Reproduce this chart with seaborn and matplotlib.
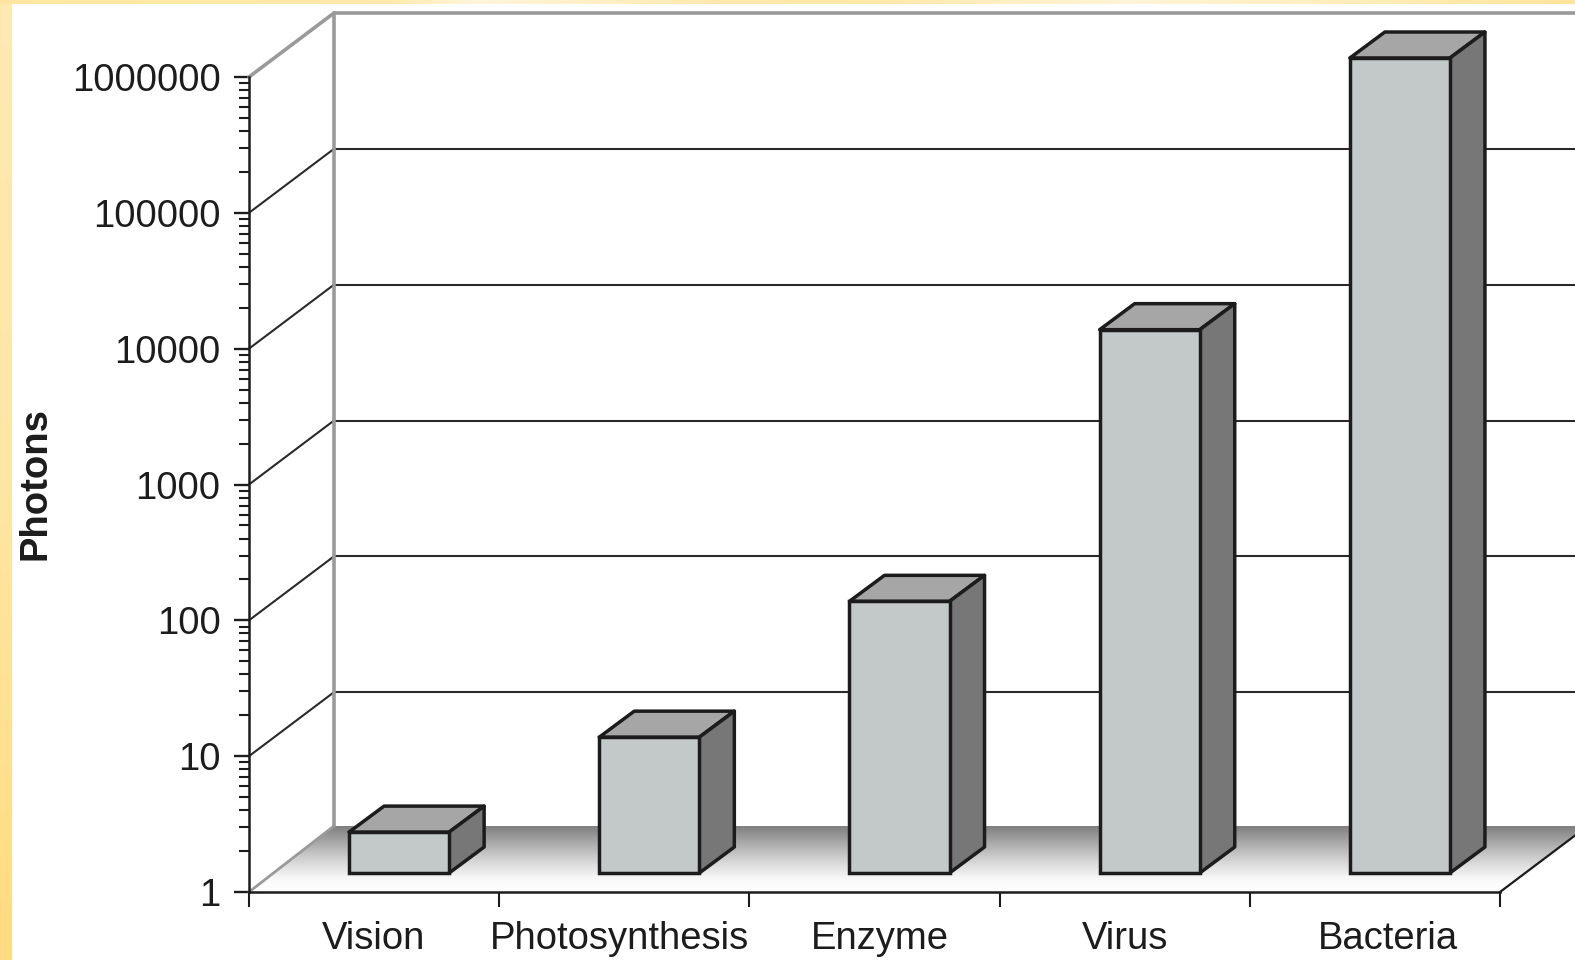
import numpy as np
import matplotlib
matplotlib.use("Agg")
import matplotlib.pyplot as plt
import seaborn as sns
from matplotlib.colors import LinearSegmentedColormap
from matplotlib.patches import Polygon
from matplotlib.ticker import LogLocator, FixedLocator, NullFormatter, FuncFormatter
from matplotlib.transforms import Affine2D, IdentityTransform

categories = ["Vision", "Photosynthesis", "Enzyme", "Virus", "Bacteria"]
photons = [2, 10, 100, 10000, 1000000]
y_ticks = [1, 10, 100, 1000, 10000, 100000, 1000000]
label_nudge = [-1, -5, 5, 0, 13]

W, H = 1575, 960
AX_LEFT, AX_RIGHT, AX_TOP, AX_BOTTOM = 249, 1500, 77, 892
WALL_DX, WALL_DY = 85, 64
FLOOR_DY = 66
BAR_DX, BAR_DY = 25, 19
DEPTH_DX, DEPTH_DY = 35, 26

FRONT, SIDE, TOP = "#c3c8c8", "#777777", "#a6a6a6"
INK = "#1c1c1c"
WALL = "#9a9a9a"
FONT_SIZE = 27.5

sns.set_theme(style="white")
plt.rcParams["font.family"] = ["Liberation Sans", "DejaVu Sans"]
plt.rcParams["text.color"] = INK

fig = plt.figure(figsize=(W / 100, H / 100), dpi=100, facecolor="white")

# Backdrop in pixel coordinates: pale frame and shaded floor
bg = fig.add_axes([0, 0, 1, 1], zorder=0)
bg.axis("off")
frame_cmap = LinearSegmentedColormap.from_list("frame", ["#ffe9b2", "#ffe6a4", "#ffdc80"])
bg.imshow(np.linspace(0, 1, 64)[:, None], extent=(0, 12, H, 0), cmap=frame_cmap,
          aspect="auto", zorder=1)
top_cmap = LinearSegmentedColormap.from_list(
    "top",
    [(0, "#ffe6a0"), (0.25, "#ffe9ae"), (0.3, "#fff6dc"), (0.45, "#ffe9b0"),
     (0.55, "#ffe7a8"), (0.72, "#fff5d8"), (1, "#ffe49c")])
bg.imshow(np.linspace(0, 1, 256)[None, :], extent=(0, W, 4, 0), cmap=top_cmap,
          aspect="auto", zorder=1)
floor_cmap = LinearSegmentedColormap.from_list(
    "floor", [(0, "#808080"), (0.45, "#cacaca"), (0.8, "#f8f8f8"), (1, "#ffffff")])
floor_back = AX_BOTTOM - FLOOR_DY
floor = bg.imshow(np.linspace(0, 1, 64)[:, None], extent=(AX_LEFT, W, AX_BOTTOM, floor_back),
                  cmap=floor_cmap, aspect="auto", zorder=2)
right_edge = AX_BOTTOM - (W - AX_RIGHT) * WALL_DY / WALL_DX
floor_outline = Polygon(
    [(AX_LEFT, AX_BOTTOM), (AX_LEFT + WALL_DX, floor_back), (W, floor_back),
     (W, right_edge), (AX_RIGHT, AX_BOTTOM)],
    closed=True, transform=bg.transData, facecolor="none", edgecolor="none")
bg.add_patch(floor_outline)
floor.set_clip_path(floor_outline)
bg.set_xlim(0, W)
bg.set_ylim(H, 0)

# Main axes: categorical x, logarithmic photon counts
ax = fig.add_axes([AX_LEFT / W, 1 - AX_BOTTOM / H, (AX_RIGHT - AX_LEFT) / W,
                   (AX_BOTTOM - AX_TOP) / H], zorder=1)
ax.patch.set_alpha(0)
sns.barplot(x=categories, y=photons, ax=ax, color=FRONT, saturation=1, width=0.40,
            edgecolor=INK, linewidth=2.5, zorder=5, err_kws={"linewidth": 0})
ax.set_yscale("log")
ax.set_ylim(1, 1000000)
ax.set_xlim(-0.5, 4.5)
fig.canvas.draw()

to_px = ax.transData
raw = IdentityTransform()

# Back wall gridlines and their slanted returns along the side wall
wall_x = AX_LEFT + WALL_DX
for i, tick in enumerate(y_ticks):
    _, py = to_px.transform((0, tick))
    if i == 0:
        continue
    colour = WALL if tick == y_ticks[-1] else "#2a2a2a"
    width = 2.6 if tick == y_ticks[-1] else 1.5
    ax.plot([AX_LEFT, wall_x], [py, py + WALL_DY], transform=raw, color=colour, lw=width,
            clip_on=False, zorder=1)
    ax.plot([wall_x, W], [py + WALL_DY, py + WALL_DY], transform=raw, color=colour, lw=width,
            clip_on=False, zorder=1)
_, top_py = to_px.transform((0, y_ticks[-1]))
_, base_py = to_px.transform((0, y_ticks[0]))
ax.plot([wall_x, wall_x], [base_py + FLOOR_DY, top_py + WALL_DY], transform=raw, color=WALL,
        lw=2.6, clip_on=False, zorder=1)
ax.plot([AX_LEFT, wall_x], [base_py, base_py + FLOOR_DY], transform=raw, color=WALL, lw=2.0,
        clip_on=False, zorder=1)
ax.plot([AX_RIGHT, W], [base_py, base_py + (W - AX_RIGHT) * WALL_DY / WALL_DX], transform=raw,
        color=INK, lw=1.6, clip_on=False, zorder=1)

# Give each bar its place on the floor, then add the top and side faces
shift = Affine2D().translate(BAR_DX, BAR_DY)
for bar, value in zip(ax.patches, photons):
    bar.set_y(1)
    bar.set_height(value - 1)
    bar.set_transform(ax.transData + shift)
    bar.set_clip_on(False)
    left = bar.get_x()
    right = left + bar.get_width()
    (x0, y0), (x1, y1) = to_px.transform([(left, 1), (right, value)])
    x0, x1 = x0 + BAR_DX, x1 + BAR_DX
    y0, y1 = y0 + BAR_DY, y1 + BAR_DY
    top_face = [(x0, y1), (x1, y1), (x1 + DEPTH_DX, y1 + DEPTH_DY), (x0 + DEPTH_DX, y1 + DEPTH_DY)]
    side_face = [(x1, y0), (x1 + DEPTH_DX, y0 + DEPTH_DY), (x1 + DEPTH_DX, y1 + DEPTH_DY), (x1, y1)]
    for face, fill in ((top_face, TOP), (side_face, SIDE)):
        ax.add_patch(Polygon(face, closed=True, transform=raw, facecolor=fill, edgecolor=INK,
                             linewidth=2.5, joinstyle="round", clip_on=False, zorder=4))

# Axes furniture
for name, spine in ax.spines.items():
    spine.set_visible(name in ("left", "bottom"))
    spine.set_color(INK)
    spine.set_linewidth(1.8)
    spine.set_zorder(6)
ax.yaxis.set_major_locator(FixedLocator(y_ticks))
ax.yaxis.set_minor_locator(LogLocator(base=10, subs=range(2, 10), numticks=20))
ax.yaxis.set_minor_formatter(NullFormatter())
ax.yaxis.set_major_formatter(FuncFormatter(lambda v, _: f"{int(round(v))}"))
ax.tick_params(axis="y", which="major", left=True, length=10.5, width=1.7, color=INK,
               labelsize=FONT_SIZE, labelcolor=INK, pad=10)
ax.tick_params(axis="y", which="minor", left=True, length=7, width=1.5, color=INK)
ax.xaxis.set_major_locator(FixedLocator(np.arange(len(categories))))
ax.set_xticklabels(categories)
ax.xaxis.set_minor_locator(FixedLocator(np.arange(len(categories) + 1) - 0.5))
ax.tick_params(axis="x", which="major", bottom=False, labelsize=FONT_SIZE, labelcolor=INK, pad=15)
ax.tick_params(axis="x", which="minor", bottom=True, length=10.5, width=1.5, color=INK)
for label, nudge in zip(ax.get_xticklabels(), label_nudge):
    label.set_transform(label.get_transform() + Affine2D().translate(nudge, 0))
ax.set_ylabel("")
ax.set_xlabel("")
fig.text(35 / W, 1 - 484 / H, "Photons", rotation=90, ha="center", va="center",
         fontsize=FONT_SIZE, fontweight="bold", color=INK)

fig.savefig("out.png", dpi=100, facecolor="white")
